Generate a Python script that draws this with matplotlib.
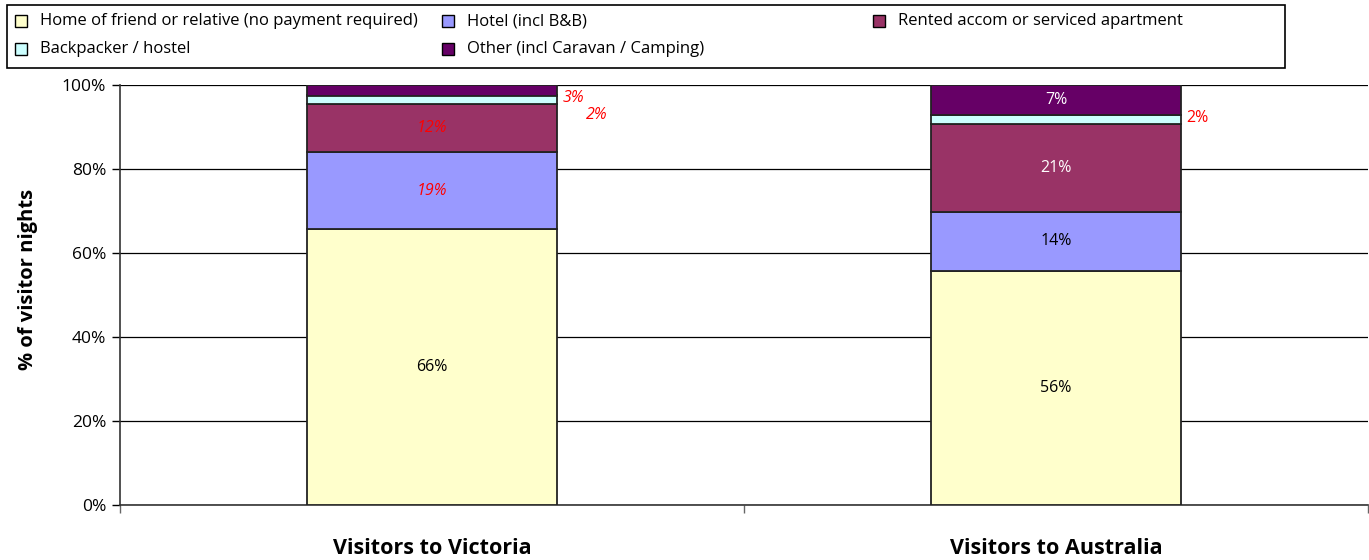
import matplotlib
matplotlib.use("Agg")
import matplotlib.pyplot as plt
import numpy as np
from matplotlib.patches import Rectangle

plt.rcParams['font.family'] = ['Open Sans', 'DejaVu Sans']

categories = ["Visitors to Victoria", "Visitors to Australia"]
series_names = ["Home of friend or relative (no payment required)", "Hotel (incl B&B)",
                "Rented accom or serviced apartment", "Backpacker / hostel",
                "Other (incl Caravan / Camping)"]
home = [65.6, 55.7]
hotel = [18.4, 14.1]
rented = [11.5, 20.8]
backpacker = [2.0, 2.3]
other = [2.5, 7.1]
labels_home = ["66%", "56%"]
labels_hotel = ["19%", "14%"]
labels_rented = ["12%", "21%"]
labels_backpacker = ["2%", "2%"]
labels_other = ["3%", "7%"]
yticks = [0, 20, 40, 60, 80, 100]

colors = ["#FFFFCC", "#9999FF", "#993366", "#CCFFFF", "#660066"]
series = [home, hotel, rented, backpacker, other]
series_labels = [labels_home, labels_hotel, labels_rented, labels_backpacker, labels_other]

fig = plt.figure(figsize=(13.69, 5.6), dpi=100)
ax = fig.add_axes([120/1369, 1-505/560, 1248/1369, 420/560])

x = np.arange(len(categories))
w = 0.4
bottom = np.zeros(len(categories))
for vals, c in zip(series, colors):
    ax.bar(x, vals, w, bottom=bottom, color=c, edgecolor="#222222", linewidth=1.3, zorder=3)
    bottom += np.array(vals)

cum = np.vstack([np.zeros(2), np.cumsum(np.array(series), axis=0)])
for si, (vals, labs) in enumerate(zip(series, series_labels)):
    for ci in range(len(categories)):
        mid = cum[si][ci] + vals[ci] / 2
        if ci == 0:
            col = "black" if si == 0 else "red"
            style = "normal" if si == 0 else "italic"
        else:
            col = "white" if si in (2, 4) else "black"
            style = "normal"
        xpos, ypos = x[ci], mid
        if si == 3:
            xpos = x[ci] + w / 2 + (0.064 if ci == 0 else 0.026)
            ypos = 92.9 if ci == 0 else 92.1
            col = "red"
        elif si == 4 and ci == 0:
            xpos = x[ci] + w / 2 + 0.026
            ypos = 96.9
        ax.text(xpos, ypos, labs[ci], ha="center", va="center", fontsize=11.5,
                color=col, style=style, zorder=5)

ax.set_xlim(-0.5, 1.5)
ax.set_ylim(0, 100)
ax.set_yticks(yticks)
ax.set_yticklabels([f"{t}%" for t in yticks], fontsize=12.5)
ax.yaxis.grid(True, color="black", linewidth=0.9, zorder=0)
ax.set_axisbelow(True)
ax.tick_params(axis="y", direction="out", length=6, width=1, pad=4)

ax.set_xticks([-0.5, 0.5, 1.5])
ax.set_xticklabels([])
ax.set_xticks(x, minor=True)
ax.set_xticklabels(categories, minor=True, fontsize=15.5, fontweight="bold")
ax.tick_params(axis="x", which="minor", length=0, pad=24)
ax.tick_params(axis="x", which="major", direction="out", length=6, width=1, color="#666666")

for s in ["top", "right"]:
    ax.spines[s].set_visible(False)
ax.spines["left"].set_color("#333333")
ax.spines["bottom"].set_color("#333333")
ax.spines["left"].set_linewidth(1.2)
ax.spines["bottom"].set_linewidth(1.2)

ax.set_ylabel("% of visitor nights", fontsize=14.5, fontweight="bold")
ax.yaxis.set_label_coords(-0.066, 0.536)

W, H = 1369, 560
fig.patches.append(Rectangle((7/W, 1-68/H), (1285-7)/W, 63/H, transform=fig.transFigure,
                             facecolor="white", edgecolor="black", linewidth=1.2))
leg_pos = [(15, 21), (442, 21), (873, 21), (15, 49), (442, 49)]
for (px, py), name, c in zip(leg_pos, series_names, colors):
    fig.patches.append(Rectangle((px/W, 1-(py+6)/H), 12/W, 12/H, transform=fig.transFigure,
                                 facecolor=c, edgecolor="black", linewidth=1.0))
    fig.text((px+25)/W, 1-py/H, name, ha="left", va="center", fontsize=12)

fig.savefig("out.png", dpi=100)
